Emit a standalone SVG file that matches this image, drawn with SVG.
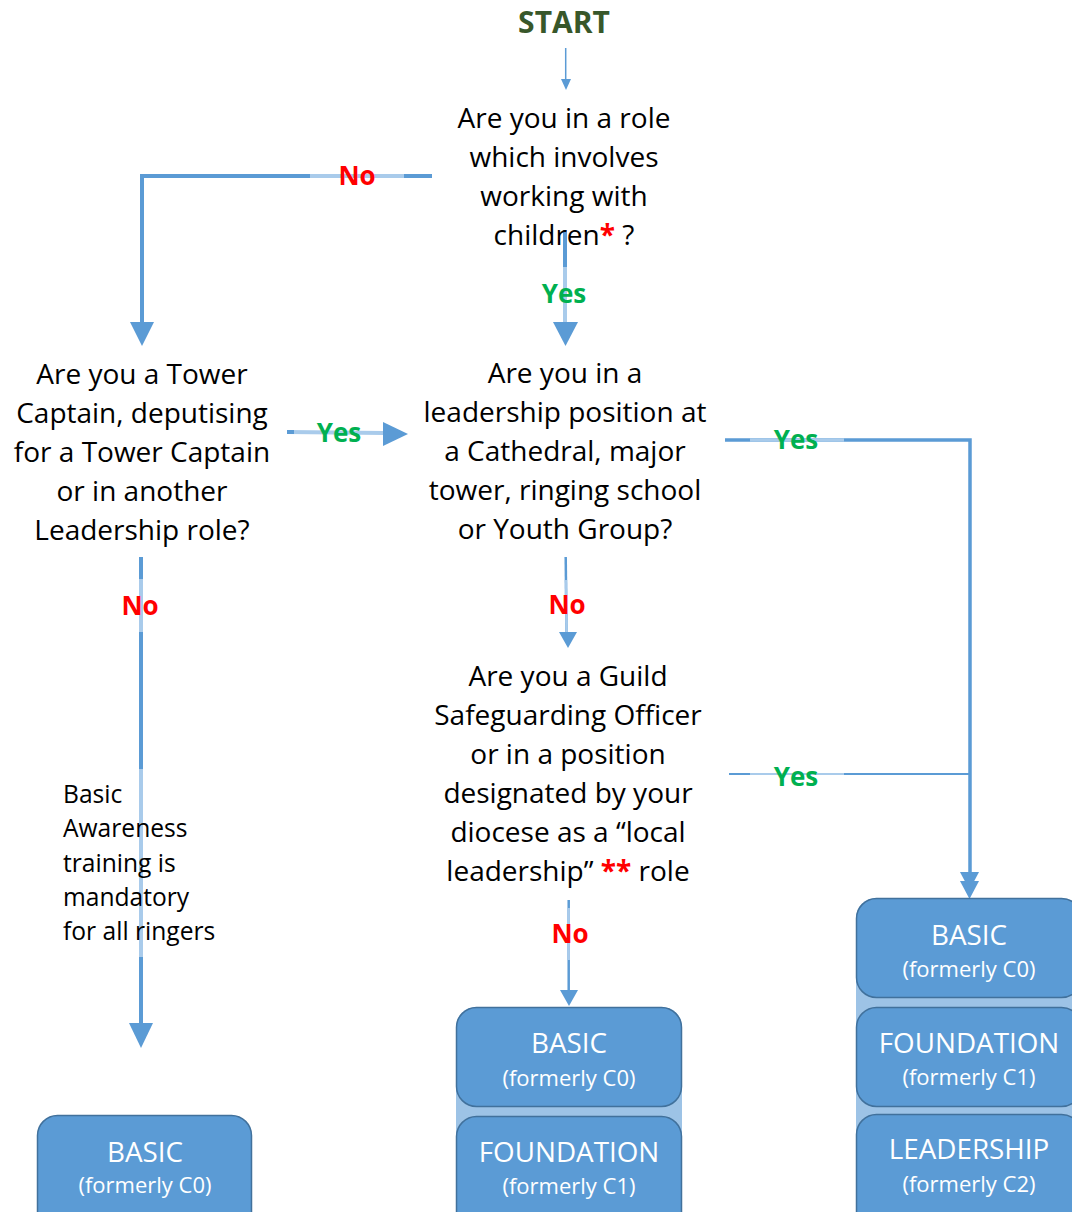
<svg xmlns="http://www.w3.org/2000/svg" width="1072" height="1212" viewBox="0 0 1072 1212">
<style>
.q{font-family:"Open Sans","Liberation Sans",sans-serif;font-size:28px;fill:#000;text-anchor:middle}
.side{font-family:"Open Sans","Liberation Sans",sans-serif;font-size:24.6px;fill:#000}
.start{font-family:"Open Sans","Liberation Sans",sans-serif;font-size:30px;font-weight:bold;fill:#38572A;text-anchor:middle}
.yes{font-family:"Open Sans","Liberation Sans",sans-serif;font-size:26px;font-weight:bold;fill:#00B050;text-anchor:middle}
.no{font-family:"Open Sans","Liberation Sans",sans-serif;font-size:26px;font-weight:bold;fill:#FF0000;text-anchor:middle}
.red{fill:#FF0000;font-weight:bold}
.t1{font-family:"Open Sans","Liberation Sans",sans-serif;font-size:27.8px;fill:#fff;text-anchor:middle}
.t2{font-family:"Open Sans","Liberation Sans",sans-serif;font-size:22px;fill:#fff;text-anchor:middle}
.box{fill:#5B9BD5;stroke:#41719C;stroke-width:1.5}
.stack{fill:#9DC3E6}
.ln{fill:none;stroke:#5B9BD5}
.lt{fill:none;stroke:#A9CBEB}
.ah{fill:#5B9BD5}
</style>

<g id="connectors">
  <line class="ln" x1="565.7" y1="48" x2="565.7" y2="80" stroke-width="1.5"/>
  <polygon class="ah" points="561,79 571,79 566,90"/>
  <path class="ln" d="M432,176 H142 V323" stroke-width="4"/>
  <line class="lt" x1="310" y1="176" x2="404" y2="176" stroke-width="4"/>
  <polygon class="ah" points="130,322 154,322 142,346"/>
  <line class="ln" x1="565" y1="230" x2="565" y2="323" stroke-width="4"/>
  <line class="lt" x1="565" y1="267" x2="565" y2="322" stroke-width="4"/>
  <polygon class="ah" points="553,322 578,322 565.5,346"/>
  <line class="lt" x1="287" y1="432" x2="384" y2="433" stroke-width="4"/>
  <line class="ln" x1="287" y1="432" x2="294" y2="432" stroke-width="4"/>
  <polygon class="ah" points="383,422 408,434 383,446"/>
  <path class="ln" d="M725,440 H970 V874" stroke-width="3.5"/>
  <line class="lt" x1="750" y1="440" x2="844" y2="440" stroke-width="3.5"/>
  <line class="ln" x1="729" y1="774" x2="970" y2="774" stroke-width="2"/>
  <line class="lt" x1="750" y1="774" x2="844" y2="774" stroke-width="2"/>
  <polygon class="ah" points="960,872 979,872 969.5,890"/>
  <polygon class="ah" points="960,881 979,881 969.5,899"/>
  <line class="ln" x1="565.7" y1="557" x2="566.5" y2="633" stroke-width="2.5"/>
  <line class="lt" x1="566" y1="580" x2="566.5" y2="632" stroke-width="2.5"/>
  <polygon class="ah" points="559,632 577,632 568,648"/>
  <line class="ln" x1="568.7" y1="900" x2="568.7" y2="991" stroke-width="2.5"/>
  <line class="lt" x1="568.7" y1="908" x2="568.7" y2="960" stroke-width="2.5"/>
  <polygon class="ah" points="560,990 578,990 569,1006"/>
  <line class="ln" x1="141" y1="557" x2="141" y2="1024" stroke-width="4"/>
  <line class="lt" x1="141" y1="579" x2="141" y2="632" stroke-width="4"/>
  <line class="lt" x1="141" y1="769" x2="141" y2="957" stroke-width="4"/>
  <polygon class="ah" points="129,1023 153,1023 141,1048"/>
</g>

<g id="start"><text class="start" x="564" y="33">START</text></g>

<g id="q1">
  <text class="q" x="564" y="128">Are you in a role</text>
  <text class="q" x="564" y="167">which involves</text>
  <text class="q" x="564" y="206">working with</text>
  <text class="q" x="564" y="245">children<tspan class="red">*</tspan> ?</text>
</g>

<g id="q2">
  <text class="q" x="142" y="384">Are you a Tower</text>
  <text class="q" x="142" y="423">Captain, deputising</text>
  <text class="q" x="142" y="462">for a Tower Captain</text>
  <text class="q" x="142" y="501">or in another</text>
  <text class="q" x="142" y="540">Leadership role?</text>
</g>

<g id="q3">
  <text class="q" x="565" y="383">Are you in a</text>
  <text class="q" x="565" y="422">leadership position at</text>
  <text class="q" x="565" y="461">a Cathedral, major</text>
  <text class="q" x="565" y="500">tower, ringing school</text>
  <text class="q" x="565" y="539">or Youth Group?</text>
</g>

<g id="q4">
  <text class="q" x="568" y="686">Are you a Guild</text>
  <text class="q" x="568" y="725">Safeguarding Officer</text>
  <text class="q" x="568" y="764">or in a position</text>
  <text class="q" x="568" y="803">designated by your</text>
  <text class="q" x="568" y="842">diocese as a “local</text>
  <text class="q" x="568" y="881">leadership” <tspan class="red">**</tspan> role</text>
</g>

<g id="labels">
  <text class="no" x="357" y="185">No</text>
  <text class="yes" x="564" y="303">Yes</text>
  <text class="yes" x="339" y="442">Yes</text>
  <text class="yes" x="796" y="449">Yes</text>
  <text class="yes" x="796" y="786">Yes</text>
  <text class="no" x="140" y="615">No</text>
  <text class="no" x="567" y="614">No</text>
  <text class="no" x="570" y="943">No</text>
</g>

<g id="note">
  <text class="side" x="63" y="803">Basic</text>
  <text class="side" x="63" y="837">Awareness</text>
  <text class="side" x="63" y="872">training is</text>
  <text class="side" x="63" y="906">mandatory</text>
  <text class="side" x="63" y="940">for all ringers</text>
</g>

<g id="left-box">
  <rect class="box" x="37.5" y="1115.5" width="214" height="120" rx="20"/>
  <text class="t1" x="145" y="1162">BASIC</text>
  <text class="t2" x="145" y="1193">(formerly C0)</text>
</g>

<g id="center-stack">
  <rect class="stack" x="456" y="1007" width="226" height="230" rx="20"/>
  <rect class="box" x="456.5" y="1007.5" width="225" height="99" rx="20"/>
  <text class="t1" x="569" y="1053">BASIC</text>
  <text class="t2" x="569" y="1086">(formerly C0)</text>
  <rect class="box" x="456.5" y="1116.5" width="225" height="120" rx="20"/>
  <text class="t1" x="569" y="1162">FOUNDATION</text>
  <text class="t2" x="569" y="1194">(formerly C1)</text>
</g>

<g id="right-stack">
  <rect class="stack" x="856" y="898" width="226" height="340" rx="20"/>
  <rect class="box" x="856.5" y="898.5" width="225" height="99" rx="20"/>
  <text class="t1" x="969" y="945">BASIC</text>
  <text class="t2" x="969" y="977">(formerly C0)</text>
  <rect class="box" x="856.5" y="1007.5" width="225" height="99" rx="20"/>
  <text class="t1" x="969" y="1053">FOUNDATION</text>
  <text class="t2" x="969" y="1085">(formerly C1)</text>
  <rect class="box" x="856.5" y="1114.5" width="225" height="120" rx="20"/>
  <text class="t1" x="969" y="1159">LEADERSHIP</text>
  <text class="t2" x="969" y="1192">(formerly C2)</text>
</g>
</svg>
